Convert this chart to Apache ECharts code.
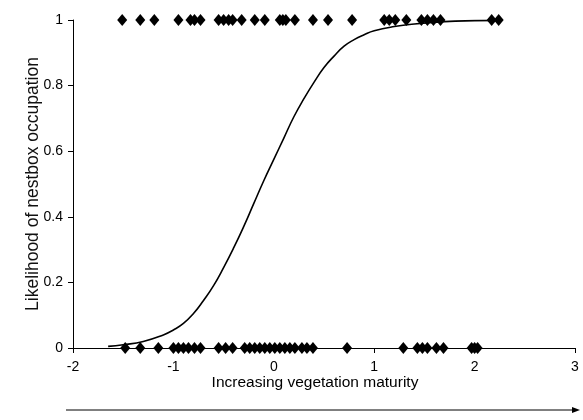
<!DOCTYPE html>
<html>
<head>
<meta charset="utf-8">
<script src="https://cdn.jsdelivr.net/npm/echarts@6/dist/echarts.min.js"></script>
<style>html,body{margin:0;padding:0;background:#fff}#c{width:583px;height:420px}</style>
</head>
<body>
<div id="c"></div>
<script>
// Observed nestbox outcomes (x = vegetation maturity score)
var occupiedX = [-1.51, -1.33, -1.19, -0.95, -0.83, -0.79, -0.73, -0.55, -0.50, -0.45, -0.41, -0.32, -0.19, -0.09, 0.06, 0.09, 0.12, 0.21, 0.39, 0.54, 0.78, 1.10, 1.15, 1.21, 1.32, 1.47, 1.53, 1.59, 1.66, 2.17, 2.24];
var emptyX = [-1.48, -1.33, -1.15, -1.00, -0.95, -0.90, -0.85, -0.79, -0.73, -0.55, -0.48, -0.41, -0.29, -0.24, -0.19, -0.14, -0.09, -0.04, 0.01, 0.06, 0.11, 0.16, 0.21, 0.28, 0.33, 0.39, 0.73, 1.29, 1.43, 1.48, 1.53, 1.62, 1.69, 1.97, 2.00, 2.03];
// Fitted curve
var curveX = [-1.65, -1.5, -1.3, -1.1, -1.0, -0.9, -0.8, -0.7, -0.6, -0.5, -0.4, -0.3, -0.2, -0.1, 0.0, 0.1, 0.2, 0.3, 0.4, 0.5, 0.6, 0.7, 0.8, 0.9, 1.0, 1.2, 1.4, 1.7, 2.0, 2.25];
var curveY = [0.005, 0.01, 0.02, 0.04, 0.055, 0.075, 0.105, 0.145, 0.19, 0.245, 0.305, 0.37, 0.44, 0.51, 0.575, 0.64, 0.705, 0.76, 0.81, 0.855, 0.89, 0.92, 0.94, 0.955, 0.967, 0.98, 0.988, 0.995, 0.998, 0.999];
var xTicks = [-2, -1, 0, 1, 2, 3];
var yTicks = [0, 0.2, 0.4, 0.6, 0.8, 1];

var chart = echarts.init(document.getElementById('c'));
var font = 'Liberation Sans, Arial, sans-serif';
chart.setOption({
  animation: false,
  backgroundColor: '#fff',
  grid: {left: 73, right: 8, top: 20, bottom: 72},
  xAxis: {
    type: 'value', min: xTicks[0], max: xTicks[xTicks.length - 1], interval: 1,
    name: 'Increasing vegetation maturity', nameLocation: 'middle', nameGap: 27, nameMoveOverlap: false,
    nameTextStyle: {color: '#000', fontSize: 15.5, fontFamily: font, padding: [0, 18, 0, 0]},
    axisLine: {onZero: false, lineStyle: {color: '#000', width: 1}},
    axisTick: {show: true, inside: false, length: 5, lineStyle: {color: '#000'}},
    axisLabel: {color: '#000', fontSize: 14, fontFamily: font, margin: 12},
    splitLine: {show: false}
  },
  yAxis: {
    type: 'value', min: yTicks[0], max: yTicks[yTicks.length - 1], interval: 0.2,
    name: 'Likelihood of nestbox occupation', nameLocation: 'middle', nameGap: 31, nameRotate: 90, nameMoveOverlap: false,
    nameTextStyle: {color: '#111', fontSize: 17.5, fontFamily: font},
    axisLine: {show: true, onZero: false, lineStyle: {color: '#000', width: 1}},
    axisTick: {show: true, inside: false, length: 5, lineStyle: {color: '#000'}},
    axisLabel: {color: '#000', fontSize: 14, fontFamily: font, margin: 10},
    splitLine: {show: false}
  },
  series: [
    {
      type: 'line', data: curveX.map(function (x, i) { return [x, curveY[i]]; }),
      smooth: true, showSymbol: false, symbol: 'none',
      lineStyle: {color: '#000', width: 1.6}, z: 3
    },
    {
      type: 'scatter', symbol: 'diamond', symbolSize: [10, 12],
      itemStyle: {color: '#000', opacity: 1},
      data: occupiedX.map(function (x) { return [x, 1]; }), z: 4
    },
    {
      type: 'scatter', symbol: 'diamond', symbolSize: [10, 12],
      itemStyle: {color: '#000', opacity: 1},
      data: emptyX.map(function (x) { return [x, 0]; }), z: 4
    }
  ],
  graphic: [
    {type: 'line', shape: {x1: 66, y1: 410, x2: 574, y2: 410}, style: {stroke: '#000', lineWidth: 1}},
    {type: 'polygon', shape: {points: [[580, 410], [572, 407], [572, 413]]}, style: {fill: '#000'}}
  ]
});
</script>
</body>
</html>
